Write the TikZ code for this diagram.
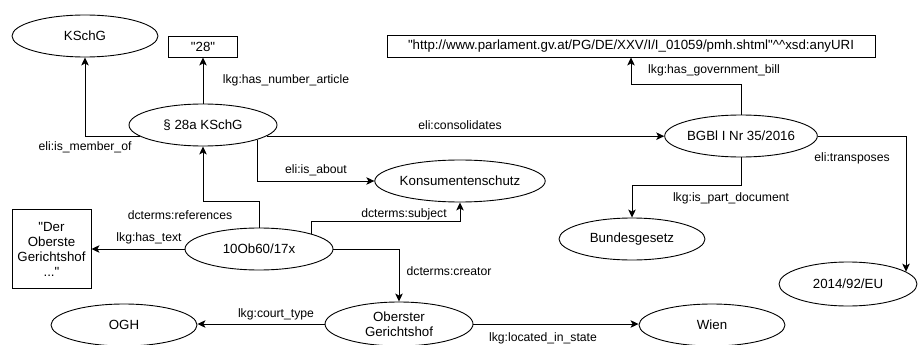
\documentclass[tikz,border=0pt]{standalone}
\usepackage{fontspec}
\setmainfont{Liberation Sans}[Ligatures=TeXOff]
\usetikzlibrary{shapes.geometric,arrows.meta,calc}
\begin{document}
\begin{tikzpicture}[x=1pt,y=-1pt,line width=0.9pt,
	ell/.style={draw,ellipse,inner sep=0pt,minimum width=146pt,minimum height=42pt,align=center,font=\fontsize{13.3}{15}\selectfont},
	box/.style={draw,rectangle,inner sep=0pt,align=center,font=\fontsize{13.3}{15}\selectfont},
	lbl/.style={inner sep=1pt,font=\fontsize{12.2}{14}\selectfont},
	arr/.style={-{Stealth[length=8pt,width=7.5pt,inset=2pt]}}]
		\useasboundingbox (0,0) rectangle (918,345);
		\node[ell] (ksc) at (85,36) {KSchG};
		\node[box,minimum width=69pt,minimum height=21pt] (num) at (203,46.5) {"28"};
		\node[ell,minimum width=148pt] (sec) at (203,125) {§ 28a KSchG};
		\node[box,minimum width=488pt,minimum height=22pt] (url) at (631,46) {"http://www.parlament.gv.at/PG/DE/XXV/I/I\_01059/pmh.shtml"\textasciicircum\textasciicircum xsd:anyURI};
		\node[ell,minimum width=149pt] (bgb) at (741,136) {BGBl I Nr 35/2016};
		\node[ell] (kon) at (460,181) {Konsumentenschutz};
		\node[ell,minimum width=148pt] (ten) at (259,249) {10Ob60/17x};
		\node[box,minimum width=79pt,minimum height=79pt] (txt) at (51.5,249) {"Der\\Oberste\\Gerichtshof\\..."};
		\node[ell] (bun) at (632,239) {Bundesgesetz};
		\node[ell,minimum width=138pt,minimum height=44pt] (eu) at (848,284) {2014/92/EU};
		\node[ell,minimum width=148pt,minimum height=44pt] (obe) at (399,324) {Oberster\\Gerichtshof};
		\node[ell] (ogh) at (124,325) {OGH};
		\node[ell] (wien) at (712,325) {Wien};
		\draw[arr] (sec.190) -| (ksc);
		\draw[arr] (sec.north) -- (num.south);
		\draw[arr] (sec.-10) -- (sec.-10 -| bgb.west);
		\draw[arr] (sec.-15) |- (kon);
		\draw[arr] (ten.north) -- ++(0,-26) -| (sec.south);
		\draw[arr] (ten.16) -- (ten.16 |- 0,221) -| (kon.south);
		\draw[arr] (ten.west) -- (txt.east);
		\draw[arr] (ten.east) -| (obe.north);
		\draw[arr] (obe.west) -- (obe.west -| ogh.east);
		\draw[arr] (obe.east) -- (obe.east -| wien.west);
		\draw[arr] (bgb.north) -- ++(0,-30) -| (url.south);
		\draw[arr] (bgb.south) -- ++(0,28) -| (bun.north);
		\draw[arr] (bgb.east) -| (eu.12);
		\node[lbl] (lmem) at (85,147) {eli:is\_member\_of};
		\node[lbl] (lnum) at (286,80) {lkg:has\_number\_article};
		\node[lbl] (lcon) at (460,125) {eli:consolidates};
		\node[lbl] (labt) at (316,170) {eli:is\_about};
		\node[lbl] (lref) at (180,215) {dcterms:references};
		\node[lbl] (lsub) at (404,214) {dcterms:subject};
		\node[lbl] (ltxt) at (149,238) {lkg:has\_text};
		\node[lbl] (lcre) at (449,271) {dcterms:creator};
		\node[lbl] (lcou) at (276,314) {lkg:court\_type};
		\node[lbl] (lloc) at (543,338) {lkg:located\_in\_state};
		\node[lbl] (lgov) at (714,70) {lkg:has\_government\_bill};
		\node[lbl] (lpar) at (731,198) {lkg:is\_part\_document};
		\node[lbl] (ltra) at (852,158) {eli:transposes};
\end{tikzpicture}
\end{document}
